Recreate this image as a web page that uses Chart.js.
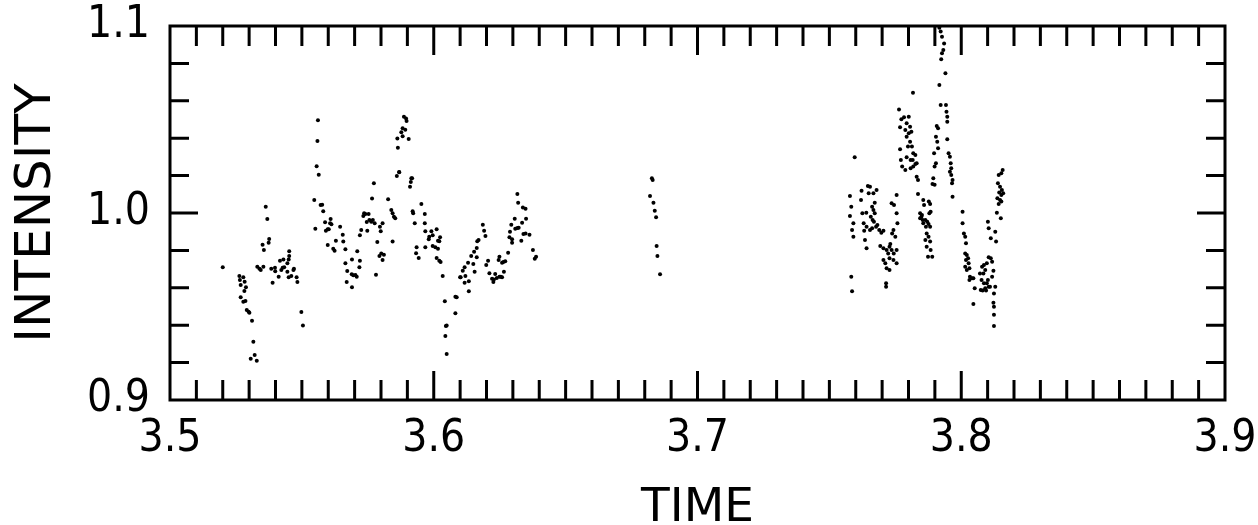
<!DOCTYPE html>
<html lang="en">
<head>
    <meta charset="UTF-8">
    <title>Intensity vs Time</title>
    <script src="https://cdn.jsdelivr.net/npm/chart.js@4"></script>
    <style>
        html, body { margin: 0; padding: 0; background: #fff; }
        .chart-container { width: 1258px; height: 525px; position: relative; }
    </style>
</head>
<body>
<div class="chart-container"><canvas id="intensityChart"></canvas></div>
<script>
// axis labels
const timeTicks = ['3.5', '3.6', '3.7', '3.8', '3.9'];
const intensityTicks = ['0.9', '1.0', '1.1'];
const timeMinorStep = 0.01;
const intensityMinorStep = 0.02;

// measured points as [time, intensity], one array per observing stretch
const run1 = [[3.5200,0.9710],[3.5263,0.9663],[3.5265,0.9642],[3.5278,0.9656],[3.5268,0.9615],[3.5283,0.9633],[3.5288,0.9603],[3.5282,0.9583],[3.5268,0.9549],[3.5278,0.9526],[3.5286,0.9529],[3.5291,0.9481],[3.5298,0.9472],[3.5301,0.9467],[3.5311,0.9424],[3.5316,0.9312],[3.5306,0.9221],[3.5321,0.9240],[3.5329,0.9210]];

const run2 = [[3.5363,1.0034],[3.5369,0.9968],[3.5376,0.9861],[3.5374,0.9841],[3.5351,0.9830],[3.5356,0.9802],[3.5331,0.9713],[3.5339,0.9702],[3.5344,0.9695],[3.5354,0.9713],[3.5384,0.9702],[3.5398,0.9707],[3.5399,0.9688],[3.5417,0.9745],[3.5422,0.9695],[3.5430,0.9752],[3.5433,0.9710],[3.5445,0.9731],[3.5450,0.9752],[3.5452,0.9770],[3.5452,0.9795],[3.5445,0.9686],[3.5427,0.9707],[3.5412,0.9659],[3.5389,0.9627],[3.5450,0.9656],[3.5460,0.9663],[3.5468,0.9695],[3.5470,0.9702],[3.5480,0.9656],[3.5483,0.9631],[3.5498,0.9471],[3.5504,0.9399]];

const run3 = [[3.5561,1.0496],[3.5559,1.0385],[3.5556,1.0250],[3.5564,1.0205],[3.5547,1.0070],[3.5571,1.0043],[3.5577,1.0044],[3.5581,1.0009],[3.5551,0.9916],[3.5588,0.9950],[3.5598,0.9913],[3.5591,0.9905],[3.5602,0.9913],[3.5607,0.9945],[3.5612,0.9940],[3.5609,0.9968],[3.5629,0.9852],[3.5645,0.9927],[3.5598,0.9829],[3.5619,0.9809],[3.5624,0.9798],[3.5655,0.9884],[3.5657,0.9847],[3.5665,0.9806],[3.5665,0.9731],[3.5672,0.9690],[3.5689,0.9672],[3.5695,0.9667],[3.5703,0.9668],[3.5708,0.9659],[3.5710,0.9795],[3.5690,0.9752],[3.5718,0.9710],[3.5720,0.9745],[3.5670,0.9631],[3.5690,0.9603]];

const run4 = [[3.5720,0.9881],[3.5725,0.9909],[3.5733,0.9984],[3.5736,0.9998],[3.5741,0.9995],[3.5746,0.9952],[3.5748,0.9905],[3.5753,0.9995],[3.5756,0.9963],[3.5763,0.9953],[3.5766,1.0077],[3.5769,0.9963],[3.5773,1.0159],[3.5776,0.9945],[3.5796,0.9927],[3.5799,0.9902],[3.5806,0.9945],[3.5786,0.9845],[3.5794,0.9770],[3.5801,0.9784],[3.5806,0.9749],[3.5811,0.9777],[3.5781,0.9670],[3.5827,1.0073],[3.5839,1.0016],[3.5844,0.9998],[3.5849,0.9980],[3.5854,0.9972],[3.5844,0.9847],[3.5860,1.0198],[3.5869,1.0219],[3.5910,1.0141],[3.5913,1.0166],[3.5918,1.0186],[3.5887,1.0515],[3.5895,1.0506],[3.5897,1.0492],[3.5882,1.0453],[3.5892,1.0445],[3.5877,1.0432],[3.5882,1.0410],[3.5862,1.0399],[3.5905,1.0396],[3.5864,1.0349],[3.5869,1.0218],[3.5915,1.0186]];

const run5 = [[3.5920,1.0009],[3.5922,0.9998],[3.5928,0.9945],[3.5953,1.0048],[3.5966,0.9995],[3.5966,0.9945],[3.5968,0.9902],[3.5983,0.9873],[3.5981,0.9859],[3.5991,0.9902],[3.5996,0.9881],[3.6011,0.9913],[3.6016,0.9852],[3.6021,0.9849],[3.6024,0.9870],[3.5935,0.9817],[3.5933,0.9785],[3.5943,0.9759],[3.5968,0.9817],[3.5996,0.9823],[3.6006,0.9817],[3.6016,0.9809],[3.6011,0.9759],[3.6021,0.9745],[3.6026,0.9738],[3.6034,0.9663],[3.6042,0.9528],[3.6046,0.9396],[3.6044,0.9342],[3.6049,0.9399],[3.6049,0.9246],[3.6082,0.9552],[3.6087,0.9549],[3.6082,0.9464],[3.6100,0.9656]];

const run6 = [[3.6102,0.9656],[3.6110,0.9691],[3.6117,0.9627],[3.6120,0.9663],[3.6117,0.9710],[3.6133,0.9581],[3.6133,0.9635],[3.6130,0.9734],[3.6142,0.9770],[3.6150,0.9727],[3.6153,0.9793],[3.6155,0.9686],[3.6163,0.9763],[3.6163,0.9813],[3.6165,0.9849],[3.6170,0.9856],[3.6186,0.9937],[3.6191,0.9905],[3.6196,0.9877],[3.6199,0.9722],[3.6206,0.9745],[3.6211,0.9678],[3.6221,0.9649],[3.6228,0.9645],[3.6226,0.9631],[3.6233,0.9674],[3.6239,0.9652],[3.6249,0.9659],[3.6254,0.9659],[3.6259,0.9656],[3.6246,0.9749],[3.6249,0.9766],[3.6259,0.9734],[3.6264,0.9738],[3.6271,0.9742],[3.6266,0.9686],[3.6282,0.9788],[3.6287,0.9870],[3.6289,0.9900],[3.6297,0.9859],[3.6297,0.9841],[3.6294,0.9937],[3.6307,0.9969],[3.6309,0.9916],[3.6317,0.9920],[3.6322,0.9921],[3.6317,1.0102],[3.6320,1.0055],[3.6332,0.9852],[3.6335,0.9948],[3.6338,1.0030],[3.6348,1.0023],[3.6340,0.9888],[3.6348,0.9891],[3.6350,0.9969],[3.6363,0.9884],[3.6376,0.9802],[3.6383,0.9756],[3.6388,0.9766]];

const run7 = [[3.6827,1.0186],[3.6830,1.0176],[3.6820,1.0091],[3.6833,1.0055],[3.6838,1.0012],[3.6843,0.9977],[3.6845,0.9823],[3.6848,0.9770],[3.6858,0.9672]];

const run8 = [[3.7596,1.0298],[3.7578,1.0091],[3.7583,1.0034],[3.7578,0.9984],[3.7586,0.9909],[3.7591,0.9945],[3.7591,0.9873],[3.7583,0.9659],[3.7586,0.9581],[3.7622,1.0119],[3.7620,1.0070],[3.7625,0.9998],[3.7630,0.9945],[3.7632,0.9905],[3.7635,0.9856],[3.7641,0.9811],[3.7646,1.0144],[3.7654,1.0141],[3.7649,1.0105],[3.7662,1.0034],[3.7667,1.0016],[3.7672,0.9998],[3.7657,0.9980],[3.7664,0.9963],[3.7669,0.9953],[3.7677,0.9927],[3.7682,0.9936],[3.7689,0.9909],[3.7697,0.9895],[3.7705,0.9905],[3.7640,1.0001],[3.7667,1.0105],[3.7679,1.0123],[3.7672,1.0055],[3.7641,0.9927],[3.7654,0.9909],[3.7662,0.9918],[3.7755,1.0096],[3.7736,1.0052],[3.7745,1.0043],[3.7755,0.9998],[3.7758,0.9945],[3.7743,0.9909],[3.7738,0.9891],[3.7750,0.9873],[3.7693,0.9823],[3.7705,0.9811],[3.7717,0.9802],[3.7728,0.9820],[3.7736,0.9802],[3.7744,0.9784],[3.7755,0.9802],[3.7731,0.9834],[3.7723,0.9784],[3.7705,0.9749],[3.7712,0.9731],[3.7728,0.9758],[3.7743,0.9749],[3.7717,0.9704],[3.7728,0.9695],[3.7755,0.9731],[3.7715,0.9624],[3.7715,0.9606]];

const run9 = [[3.7764,1.0554],[3.7817,1.0643],[3.7773,1.0501],[3.7783,1.0512],[3.7801,1.0515],[3.7768,1.0458],[3.7793,1.0480],[3.7806,1.0461],[3.7788,1.0444],[3.7801,1.0426],[3.7811,1.0435],[3.7793,1.0408],[3.7806,1.0381],[3.7813,1.0355],[3.7798,1.0355],[3.7768,1.0341],[3.7818,1.0319],[3.7826,1.0310],[3.7793,1.0298],[3.7808,1.0283],[3.7816,1.0283],[3.7771,1.0283],[3.7776,1.0248],[3.7818,1.0248],[3.7831,1.0266],[3.7808,1.0239],[3.7826,1.0262],[3.7788,1.0230],[3.7831,1.0194],[3.7836,1.0177],[3.7836,1.0102],[3.7856,1.0070],[3.7877,1.0061],[3.7859,1.0043],[3.7882,1.0048],[3.7844,0.9998],[3.7851,0.9989],[3.7844,0.9972],[3.7854,0.9963],[3.7864,0.9963],[3.7871,0.9953],[3.7856,0.9945],[3.7849,0.9980],[3.7879,0.9998],[3.7884,1.0007],[3.7866,0.9927],[3.7876,0.9941],[3.7882,0.9927],[3.7869,0.9891],[3.7876,0.9873],[3.7864,0.9856],[3.7882,0.9847],[3.7869,0.9820],[3.7884,0.9802],[3.7874,0.9766],[3.7890,0.9766],[3.7917,1.0990],[3.7922,1.0970],[3.7927,1.0943],[3.7935,1.0907],[3.7932,1.0872],[3.7927,1.0854],[3.7924,1.0822],[3.7940,1.0747],[3.7917,1.0684],[3.7922,1.0578],[3.7942,1.0578],[3.7944,1.0542],[3.7947,1.0515],[3.7947,1.0488],[3.7907,1.0465],[3.7912,1.0453],[3.7904,1.0408],[3.7909,1.0381],[3.7947,1.0394],[3.7897,1.0319],[3.7912,1.0346],[3.7952,1.0319],[3.7957,1.0301],[3.7904,1.0266],[3.7899,1.0248],[3.7960,1.0266],[3.7962,1.0239],[3.7957,1.0221],[3.7962,1.0203],[3.7967,1.0177],[3.7965,1.0159],[3.7894,1.0186],[3.7891,1.0155],[3.7899,1.0151],[3.7967,1.0087]];

const run10 = [[3.8005,1.0007],[3.8005,0.9945],[3.8010,0.9891],[3.8015,0.9873],[3.8018,0.9838],[3.8015,0.9784],[3.8021,0.9775],[3.8026,0.9758],[3.8018,0.9749],[3.8028,0.9731],[3.8015,0.9713],[3.8031,0.9704],[3.8021,0.9695],[3.8033,0.9659],[3.8041,0.9651],[3.8031,0.9642],[3.8046,0.9651],[3.8051,0.9597],[3.8046,0.9513],[3.8071,0.9677],[3.8079,0.9713],[3.8086,0.9722],[3.8097,0.9731],[3.8091,0.9695],[3.8084,0.9677],[3.8077,0.9642],[3.8086,0.9624],[3.8097,0.9624],[3.8101,0.9642],[3.8104,0.9606],[3.8091,0.9597],[3.8074,0.9588],[3.8081,0.9585],[3.8094,0.9585],[3.8109,0.9606],[3.8117,0.9659],[3.8122,0.9691],[3.8117,0.9739],[3.8112,0.9758],[3.8104,0.9763],[3.8129,0.9606],[3.8124,0.9570],[3.8122,0.9520],[3.8124,0.9499],[3.8124,0.9456],[3.8124,0.9396],[3.8101,0.9953],[3.8104,0.9918],[3.8112,0.9865],[3.8129,0.9900],[3.8132,0.9847],[3.8157,1.0230],[3.8152,1.0212],[3.8142,1.0203],[3.8139,1.0159],[3.8147,1.0141],[3.8154,1.0123],[3.8144,1.0109],[3.8152,1.0096],[3.8159,1.0105],[3.8137,1.0079],[3.8147,1.0070],[3.8142,1.0048],[3.8152,1.0061],[3.8135,1.0001],[3.8150,0.9972]];

const runs = [run1, run2, run3, run4, run5, run6, run7, run8, run9, run10];
const points = runs.flat().map(p => ({ x: p[0], y: p[1] }));

// box frame with inward ticks on all four sides
const frameTicks = {
    id: 'frameTicks',
    afterDraw(chart) {
        const { ctx, chartArea: a, scales: { x, y } } = chart;
        const xMin = parseFloat(timeTicks[0]);
        const yMin = parseFloat(intensityTicks[0]);
        ctx.save();
        ctx.strokeStyle = '#000';
        ctx.lineWidth = 3;
        ctx.strokeRect(a.left, a.top, a.right - a.left, a.bottom - a.top);
        ctx.beginPath();
        for (let i = 1; i < 40; i++) {
            const px = x.getPixelForValue(xMin + i * timeMinorStep);
            const len = i % 10 === 0 ? 29 : 20;
            ctx.moveTo(px, a.bottom); ctx.lineTo(px, a.bottom - len);
            ctx.moveTo(px, a.top); ctx.lineTo(px, a.top + len);
        }
        for (let j = 1; j < 10; j++) {
            const py = y.getPixelForValue(yMin + j * intensityMinorStep);
            const len = j === 5 ? 28 : 19;
            ctx.moveTo(a.left, py); ctx.lineTo(a.left + len, py);
            ctx.moveTo(a.right, py); ctx.lineTo(a.right - len, py);
        }
        ctx.stroke();
        ctx.restore();
    }
};

const tickFont = { family: '"DejaVu Sans Condensed", "DejaVu Sans", sans-serif', size: 44, lineHeight: 1.2 };
const xTitleFont = { family: '"DejaVu Sans", sans-serif', size: 47, lineHeight: 0.68 };
const yTitleFont = { family: '"DejaVu Sans", sans-serif', size: 50, lineHeight: 0.68 };

let ctx = document.getElementById('intensityChart').getContext('2d');
let intensityChart = new Chart(ctx, {
    type: 'scatter',
    data: {
        datasets: [{
            data: points,
            backgroundColor: '#000',
            borderWidth: 0,
            pointRadius: 2,
            pointHoverRadius: 2
        }]
    },
    options: {
        responsive: true,
        maintainAspectRatio: false,
        animation: false,
        events: [],
        layout: { padding: { top: 26, right: 33, left: 0, bottom: 0 } },
        plugins: { legend: { display: false }, tooltip: { enabled: false } },
        scales: {
            x: {
                type: 'linear',
                min: 3.5,
                max: 3.9,
                afterBuildTicks: s => { s.ticks = timeTicks.map(t => ({ value: parseFloat(t) })); },
                ticks: {
                    callback: (v, i) => timeTicks[i],
                    font: tickFont,
                    color: '#000',
                    padding: 13,
                    maxRotation: 0,
                    autoSkip: false
                },
                grid: { display: false, drawTicks: false, tickLength: 0 },
                border: { display: false },
                title: { display: true, text: 'TIME', font: xTitleFont, color: '#000', padding: { top: 0, bottom: 0 } },
                afterFit: s => { s.height = 125; s.paddingLeft = 0; s.paddingRight = 0; }
            },
            y: {
                type: 'linear',
                min: 0.9,
                max: 1.1,
                afterBuildTicks: s => { s.ticks = intensityTicks.map(t => ({ value: parseFloat(t) })); },
                ticks: {
                    callback: (v, i) => intensityTicks[i],
                    font: tickFont,
                    color: '#000',
                    padding: 20,
                    autoSkip: false
                },
                grid: { display: false, drawTicks: false, tickLength: 0 },
                border: { display: false },
                title: { display: true, text: 'INTENSITY', font: yTitleFont, color: '#000', padding: { top: 20, bottom: 0 } },
                afterFit: s => { s.width = 170; s.paddingTop = 0; s.paddingBottom = 0; }
            }
        }
    },
    plugins: [frameTicks]
});
</script>
</body>
</html>
